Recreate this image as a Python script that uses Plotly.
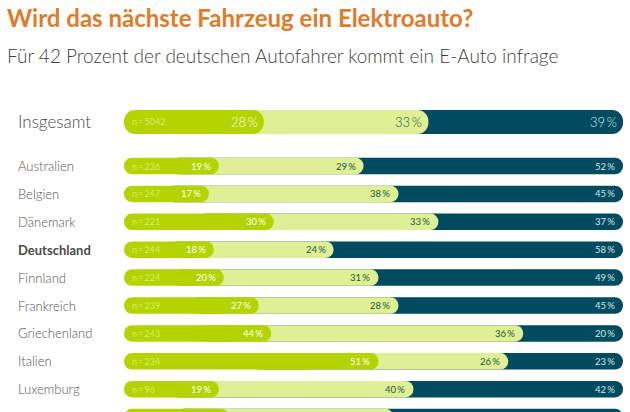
import plotly.graph_objects as go

countries = ["Insgesamt", "Australien", "Belgien", "Dänemark", "Deutschland", "Finnland",
             "Frankreich", "Griechenland", "Italien", "Luxemburg", "Niederlande"]
sample = [5042, 236, 247, 221, 244, 224, 239, 243, 234, 96, 250]
label_green = [28, 19, 17, 30, 18, 20, 27, 44, 51, 19, 21]
label_light = [33, 29, 38, 33, 24, 31, 28, 36, 26, 40, 32]
label_dark = [39, 52, 45, 37, 58, 49, 45, 20, 23, 42, 47]
# Segment lengths as drawn in the picture (Griechenland's green bar is shorter than its label)
drawn_green = [28, 19, 17, 30, 18, 20, 27, 29.5, 51, 19, 21]
drawn_light = [33, 29, 38, 33, 24, 31, 28, 50.5, 26, 39, 33]
drawn_dark = [39, 52, 45, 37, 58, 49, 45, 20, 23, 42, 46]
row_pos = [-1.58, 0, 1, 2, 3, 4, 5, 6, 7, 8, 9]

GREEN, LIGHT, DARK = "#b3d400", "#dfef96", "#004b5f"
FONT = "Lato"
W, H = 630, 412
X0, X100 = 124, 623
Y0, ROW = 166, 27.9

ends_g = drawn_green
ends_l = [a + b for a, b in zip(drawn_green, drawn_light)]
ends_d = [a + b + c for a, b, c in zip(drawn_green, drawn_light, drawn_dark)]
mid = [g * 0.5 for g in drawn_green]

fig = go.Figure()


def add(idx, base, end, color, thickness, radius):
    fig.add_trace(go.Bar(
        y=[row_pos[i] for i in idx], base=[base[i] for i in idx],
        x=[end[i] - base[i] for i in idx], orientation="h", width=thickness,
        marker=dict(color=color, line_width=0, cornerradius=radius),
        showlegend=False, hoverinfo="skip"))


for idx, thick, rad in [([0], 0.86, 12), (list(range(1, len(countries))), 0.59, 8)]:
    add(idx, mid, ends_d, DARK, thick, rad)
    add(idx, mid, ends_l, LIGHT, thick, rad)
    add(idx, mid, ends_g, GREEN, thick, rad)
    add(idx, [m * 1.5 for m in mid], [0] * len(mid), GREEN, thick, rad)

sx = (X100 - X0) / 100


def text(x, y, s, size, color, anchor="left", xref="x", yref="y", weight=400):
    fig.add_annotation(x=x, y=y, xref=xref, yref=yref, text=s, showarrow=False,
                       xanchor=anchor, yanchor="middle",
                       font=dict(family=FONT, size=size, color=color, weight=weight))


for i, c in enumerate(countries):
    big = i == 0
    y = row_pos[i]
    text(16 / W, y, c, 17 if big else 13, "#4a4a4a" if c == "Deutschland" or big else "#555555",
         xref="paper", weight=700 if c == "Deutschland" else 300)
    text(6 / sx, y, f"n\u2009=\u2009{sample[i]}", 9, "#d9ec73")
    fs = 13 if big else 9.5
    w = 300 if big else 400
    off = 4 / sx if big else 6 / sx
    text(ends_g[i] - off, y, f"{label_green[i]}\u2009%", fs, "#ffffff", "right", weight=w)
    text(ends_l[i] - off, y, f"{label_light[i]}\u2009%", fs, "#1d5a36", "right", weight=w)
    text(ends_d[i] - off, y, f"{label_dark[i]}\u2009%", fs, "#d5e8e6", "right", weight=w)

text(5 / W, 1 - 18 / H, "Wird das nächste Fahrzeug ein Elektroauto?", 24, "#e07b2c",
     xref="paper", yref="paper", weight=700)
text(5 / W, 1 - 56 / H, "Für 42 Prozent der deutschen Autofahrer kommt ein E-Auto infrage", 19,
     "#3f3f3f", xref="paper", yref="paper", weight=300)

fig.update_layout(
    width=W, height=H, barmode="overlay", margin=dict(l=0, r=0, t=0, b=0),
    paper_bgcolor="white", plot_bgcolor="white",
    xaxis=dict(range=[-X0 / sx, (W - X0) / sx], visible=False, fixedrange=True),
    yaxis=dict(range=[(H - Y0) / ROW, -Y0 / ROW], visible=False, fixedrange=True),
)
fig.write_html("out.html", config={"displayModeBar": False},
               post_script="document.body.style.margin='0';document.documentElement.style.overflow='hidden';")
